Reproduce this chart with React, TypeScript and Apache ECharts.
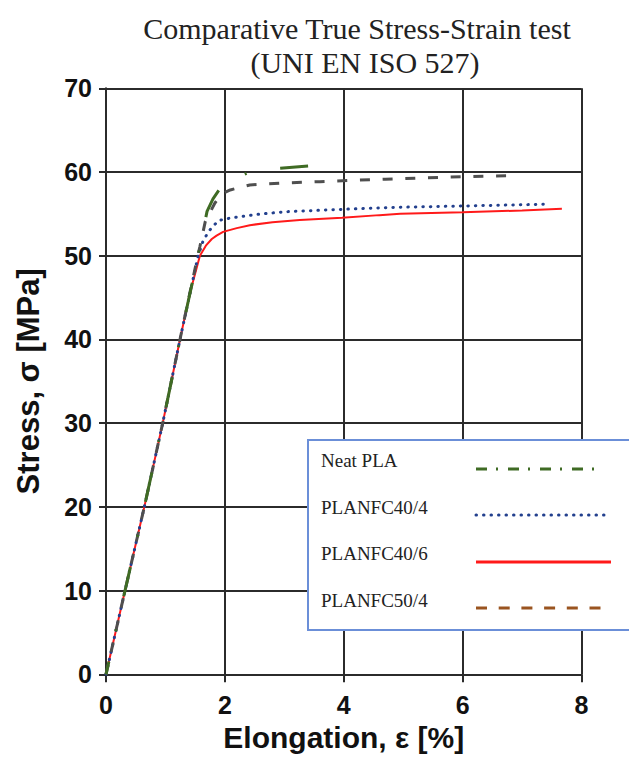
import React, { useEffect, useRef } from "react";
import * as echarts from "echarts";

const titleLines = ["Comparative True Stress-Strain test", "(UNI EN ISO 527)"];
const xTicks = [0, 2, 4, 6, 8];
const yTicks = [0, 10, 20, 30, 40, 50, 60, 70];
const seriesNames = ["Neat PLA", "PLANFC40/4", "PLANFC40/6", "PLANFC50/4"];

// [elongation %, stress MPa]
const neatPLA: [number, number][] = [
  [0, 0], [0.32, 10], [0.645, 20], [0.954, 30], [1.245, 40], [1.55, 50],
  [1.62, 52.5], [1.7, 55.3], [1.8, 56.8], [1.92, 58.06], [2.1, 59.0],
  [2.37, 59.85], [2.65, 60.2], [2.93, 60.45], [3.4, 60.72],
];
const planfc40_4: [number, number][] = [
  [0, 0], [0.32, 10], [0.645, 20], [0.954, 30], [1.245, 40], [1.55, 50],
  [1.64, 51.9], [1.75, 53.1], [1.89, 54.2], [2.09, 54.5], [2.5, 54.9],
  [2.73, 55.07], [3.04, 55.26], [4.0, 55.55], [4.95, 55.79], [6.0, 55.94], [7.4, 56.15],
];
const planfc40_6: [number, number][] = [
  [0, 0], [0.32, 10], [0.645, 20], [0.954, 30], [1.245, 40], [1.41, 45.5],
  [1.58, 50], [1.68, 51.2], [1.78, 52.0], [1.86, 52.4], [1.97, 52.85],
  [2.2, 53.3], [2.42, 53.65], [2.8, 54.0], [3.26, 54.27], [3.97, 54.55],
  [4.6, 54.85], [4.95, 55.0], [6.0, 55.2], [7.0, 55.4], [7.67, 55.6],
];
const planfc50_4: [number, number][] = [
  [0, 0], [0.32, 10], [0.645, 20], [0.954, 30], [1.245, 40], [1.55, 50.2],
  [1.58, 51.1], [1.67, 54.07], [1.83, 56.27], [1.95, 57.4], [2.09, 57.86],
  [2.42, 58.45], [3.0, 58.7], [3.6, 58.85], [4.7, 59.15], [6.0, 59.45], [6.74, 59.56],
];

const SANS = "'Liberation Sans', Arial, sans-serif";
const SERIF = "'Liberation Serif', 'Times New Roman', serif";
const GRID = "#2b2b2b";

export default function App() {
  const ref = useRef<HTMLDivElement>(null);
  useEffect(() => {
    document.body.style.margin = "0";
    const chart = echarts.init(ref.current!, null, { renderer: "svg" });

    const legendRows = [
      { name: seriesNames[0], ty: 460, ly: 469, x2: 602, color: "#3f6b24", width: 3, dash: [11, 9, 2, 10], cap: "butt" },
      { name: seriesNames[1], ty: 507, ly: 515, x2: 610, color: "#23408e", width: 3, dash: [0.5, 7], cap: "round" },
      { name: seriesNames[2], ty: 553, ly: 562, x2: 611, color: "#ff1a1a", width: 3, dash: null, cap: "butt" },
      { name: seriesNames[3], ty: 600, ly: 608, x2: 602, color: "#9a5420", width: 3, dash: [11, 11.7], cap: "butt" },
    ];

    const graphic: any[] = [
      {
        type: "text", x: 357, y: 28,
        style: { text: titleLines[0], font: `30px ${SERIF}`, fill: "#222", align: "center", verticalAlign: "middle" },
      },
      {
        type: "text", x: 365, y: 62,
        style: { text: titleLines[1], font: `30px ${SERIF}`, fill: "#222", align: "center", verticalAlign: "middle" },
      },
      {
        type: "rect", shape: { x: 308, y: 440, width: 340, height: 190 },
        style: { fill: "#fff", stroke: "#6b8fd8", lineWidth: 2 }, z: 10,
      },
    ];
    legendRows.forEach((r) => {
      graphic.push({
        type: "text", x: 321, y: r.ty, z: 11,
        style: { text: r.name, font: `19px ${SERIF}`, fill: "#222", align: "left", verticalAlign: "middle" },
      });
      graphic.push({
        type: "line", z: 11,
        shape: { x1: 476, y1: r.ly, x2: r.x2, y2: r.ly },
        style: { stroke: r.color, lineWidth: r.width, lineDash: r.dash || undefined, lineCap: r.cap },
      });
    });

    const axisCommon = {
      type: "value",
      axisLine: { show: true, onZero: false, lineStyle: { color: GRID, width: 2 } },
      axisTick: { show: true, inside: false, lineStyle: { color: GRID, width: 2 } },
      splitLine: { show: true, lineStyle: { color: GRID, width: 2 } },
    };

    chart.setOption({
      animation: false,
      backgroundColor: "#fff",
      grid: { left: 106, top: 88.3, right: 47.5, bottom: 90.7, containLabel: false },
      xAxis: {
        ...axisCommon,
        min: xTicks[0], max: xTicks[xTicks.length - 1], interval: 2,
        axisTick: { ...axisCommon.axisTick, length: 8 },
        axisLabel: { margin: 18, fontSize: 25, fontWeight: "bold", color: "#111", fontFamily: SANS },
        name: "Elongation, ε [%]", nameLocation: "middle", nameGap: 46,
        nameTextStyle: { fontSize: 30, fontWeight: "bold", color: "#111", fontFamily: SANS },
      },
      yAxis: {
        ...axisCommon,
        min: yTicks[0], max: yTicks[yTicks.length - 1], interval: 10,
        axisTick: { ...axisCommon.axisTick, length: 7 },
        axisLabel: { margin: 14, fontSize: 25, fontWeight: "bold", color: "#111", fontFamily: SANS },
        name: "Stress, σ [MPa]", nameLocation: "middle", nameGap: 62,
        nameTextStyle: { fontSize: 31, fontWeight: "bold", color: "#111", fontFamily: SANS },
      },
      series: [
        {
          name: seriesNames[2], type: "line", data: planfc40_6, showSymbol: false, smooth: false,
          lineStyle: { color: "#ff1a1a", width: 2 },
        },
        {
          name: seriesNames[1], type: "line", data: planfc40_4, showSymbol: false, smooth: false,
          lineStyle: { color: "#23408e", width: 3, type: [0.5, 7], cap: "round" },
        },
        {
          name: seriesNames[3], type: "line", data: planfc50_4, showSymbol: false, smooth: false,
          lineStyle: { color: "#4f4f4f", width: 3, type: [10, 12.7] },
        },
        {
          name: seriesNames[0], type: "line", data: neatPLA, showSymbol: false, smooth: false,
          lineStyle: { color: "#3f6b24", width: 3, type: [30, 31, 2, 34], dashOffset: 17 },
        },
      ],
      graphic,
    });
    return () => chart.dispose();
  }, []);
  return <div ref={ref} style={{ width: 629, height: 765 }} />;
}
